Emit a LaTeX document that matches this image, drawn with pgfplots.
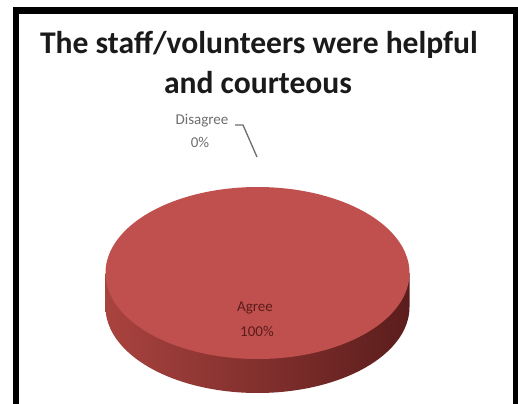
\documentclass[border=0pt]{standalone}
\usepackage{fontspec}
\setmainfont{Carlito}
\usepackage{pgfplots}
\usepackage{pgfplotstable}
\pgfplotsset{compat=1.18}
\definecolor{pietop}{HTML}{C0504D}
\definecolor{sideL}{HTML}{A9433F}
\definecolor{sideM}{HTML}{8B3331}
\definecolor{sideR}{HTML}{5B1D1C}
\definecolor{titlec}{HTML}{1A1A1A}
\definecolor{lblgray}{HTML}{6E6E6E}
\definecolor{lblred}{HTML}{5A1C1B}

\pgfplotstableread{
label value
Agree 100
Disagree 0
}\piedata

\begin{document}
\begin{tikzpicture}
\pgfplotstablegetelem{0}{value}\of\piedata \pgfmathsetmacro\va{\pgfplotsretval}
\pgfplotstablegetelem{1}{value}\of\piedata \pgfmathsetmacro\vd{\pgfplotsretval}
\pgfmathsetmacro\tot{\va+\vd}
\pgfmathsetmacro\fa{\va/\tot}
\pgfmathsetmacro\fd{\vd/\tot}
% slices start at 12 o'clock and run clockwise (y axis points down)
\pgfmathsetmacro\astart{-90}
\pgfmathsetmacro\aend{\astart+360*\fa}
\pgfmathsetmacro\sidestart{max(0,\astart)}
\pgfmathsetmacro\sideend{min(180,\aend)}
\pgfmathtruncatemacro\pA{round(100*\fa)}
\pgfmathtruncatemacro\pD{round(100*\fd)}
\path[use as bounding box] (0,0) rectangle (518bp,404bp);
\begin{axis}[at={(0,0)}, anchor=south west, x=1bp, y=1bp,
  xmin=0, xmax=518, ymin=0, ymax=404, y dir=reverse,
  hide axis, clip=false]
% frame
\fill[black] (axis cs:13,7) rectangle (axis cs:518,404);
\fill[white] (axis cs:19,14) rectangle (axis cs:513,404);
% side of the 3D pie (Agree slice)
\addplot[draw=none, left color=sideL, middle color=sideM, right color=sideR,
  domain=\sidestart:\sideend, samples=150]
  ({257.5+152*cos(x)}, {307+86*sin(x)})
  -- (axis cs:105.5,273) -- (axis cs:409.5,273) -- cycle;
% top face (Agree slice)
\addplot[draw=none, fill=pietop, domain=\astart:\aend, samples=241]
  ({257.5+152*cos(x)}, {273+86*sin(x)})
  -- (axis cs:257.5,273) -- cycle;
% title
\node[anchor=base, text=titlec, font=\fontsize{31.6bp}{38bp}\selectfont\bfseries]
  at (axis cs:259,53) {The staff/volunteers were helpful};
\node[anchor=base, text=titlec, font=\fontsize{31.6bp}{38bp}\selectfont\bfseries]
  at (axis cs:258,93) {and courteous};
% Disagree label with leader line
\draw[lblgray, line width=1.3bp] (axis cs:235,125) -- (axis cs:243,125) -- (axis cs:257,157);
\node[anchor=base, text=lblgray, font=\fontsize{15bp}{18bp}\selectfont]
  at (axis cs:202,124) {Disagree};
\node[anchor=base, text=lblgray, font=\fontsize{15bp}{18bp}\selectfont]
  at (axis cs:200,147) {\pD\%};
% Agree label
\node[anchor=base, text=lblred, font=\fontsize{15bp}{18bp}\selectfont]
  at (axis cs:255,311) {Agree};
\node[anchor=base, text=lblred, font=\fontsize{15bp}{18bp}\selectfont]
  at (axis cs:257,336) {\pA\%};
\end{axis}
\end{tikzpicture}
\end{document}
